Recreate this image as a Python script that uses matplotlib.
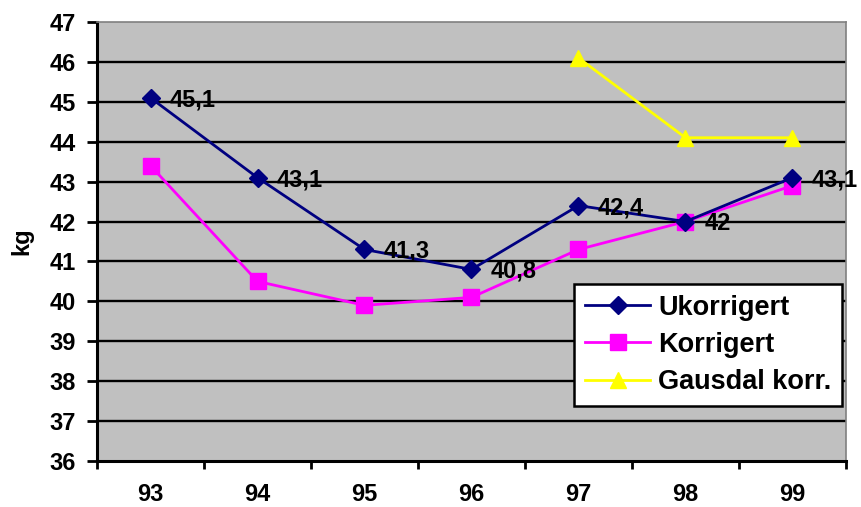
import matplotlib
matplotlib.use('Agg')
import matplotlib.pyplot as plt
import numpy as np

plt.rcParams['font.family'] = ['Liberation Sans', 'DejaVu Sans']
plt.rcParams['font.weight'] = 'bold'

# data
years = ['93', '94', '95', '96', '97', '98', '99']
ukorrigert = [45.1, 43.1, 41.3, 40.8, 42.4, 42.0, 43.1]
korrigert = [43.4, 40.5, 39.9, 40.1, 41.3, 42.0, 42.9]
gausdal = [np.nan, np.nan, np.nan, np.nan, 46.1, 44.1, 44.1]
y_ticks = list(range(36, 48))

W, H = 861, 507
fig = plt.figure(figsize=(W / 100, H / 100), dpi=100)
ax = fig.add_axes([97 / W, (H - 461) / H, 749 / W, 439 / H])
ax.set_facecolor('#C0C0C0')

x = np.arange(len(years))

# gridlines
for v in y_ticks[1:-1]:
    ax.axhline(v, color='black', linewidth=1.7, zorder=1)

ax.plot(x, ukorrigert, color='#000080', linewidth=2.0, marker='D',
        markersize=9.5, markerfacecolor='#000080', markeredgecolor='#000080',
        label='Ukorrigert', zorder=4)
ax.plot(x, korrigert, color='#FF00FF', linewidth=2.0, marker='s',
        markersize=11, markerfacecolor='#FF00FF', markeredgecolor='#FF00FF',
        label='Korrigert', zorder=3)
ax.plot(x, gausdal, color='#FFFF00', linewidth=2.0, marker='^',
        markersize=12, markerfacecolor='#FFFF00', markeredgecolor='#FFFF00',
        label='Gausdal korr.', zorder=3)

# data labels
for xi, v in zip(x, ukorrigert):
    txt = f'{v:g}'.replace('.', ',')
    ax.annotate(txt, (xi, v), xytext=(19, -2), textcoords='offset pixels',
                ha='left', va='center', fontsize=17, fontweight='bold',
                zorder=5)

ax.set_xlim(-0.5, len(years) - 0.5)
ax.set_ylim(36, 47)

ax.set_xticks(np.arange(-0.5, len(years), 1.0))
ax.set_xticklabels([])
ax.set_xticks(x, minor=True)
ax.set_xticklabels(years, minor=True)
ax.tick_params(axis='x', which='major', direction='out', length=6, width=2)
ax.tick_params(axis='x', which='minor', length=0, pad=16, labelsize=17)

ax.set_yticks(y_ticks)
ax.tick_params(axis='y', direction='out', length=7, width=2, pad=8,
               labelsize=17)

ax.set_ylabel('kg', fontsize=17, fontweight='bold', labelpad=12)

for side in ['left', 'bottom']:
    ax.spines[side].set_linewidth(2.2)
    ax.spines[side].set_color('black')
ax.spines['top'].set_color('#808080')
ax.spines['top'].set_linewidth(1.2)
ax.spines['right'].set_color('#808080')
ax.spines['right'].set_linewidth(1.2)

leg = ax.legend(loc='lower right', bbox_to_anchor=(0.995, 0.125),
                fontsize=19.5, frameon=True, fancybox=False, framealpha=1,
                edgecolor='black', handlelength=2.4, borderpad=0.4,
                labelspacing=0.42, handletextpad=0.3, borderaxespad=0)
leg.get_frame().set_linewidth(1.8)
for t in leg.get_texts():
    t.set_fontweight('bold')

fig.savefig('out.png', dpi=100)
